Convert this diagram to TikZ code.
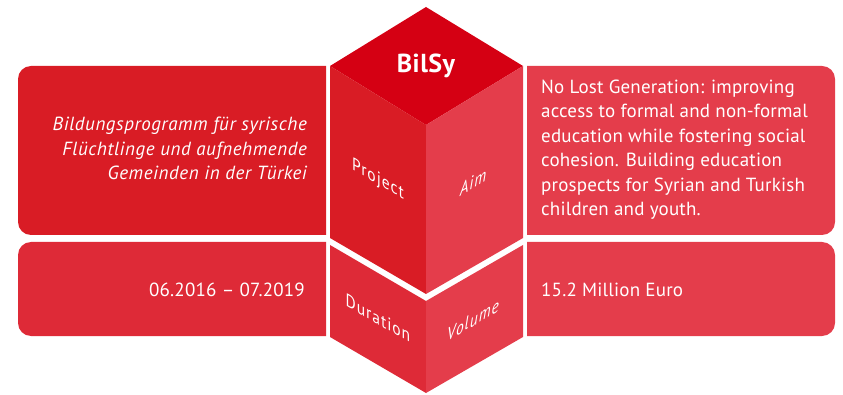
\documentclass[tikz,border=0pt]{standalone}
\usepackage{fontspec}
\setmainfont{PT Sans}
\definecolor{topred}{RGB}{213,0,19}
\definecolor{redA}{RGB}{217,28,37}
\definecolor{redB}{RGB}{222,42,55}
\definecolor{redC}{RGB}{228,61,75}
\begin{document}
\begin{tikzpicture}[x=1pt,y=-1pt,
  txt/.style={text=white,inner sep=0pt,font=\fontsize{19}{24.5}\selectfont\addfontfeatures{LetterSpace=1}},
  itxt/.style={text=white,inner sep=0pt,font=\fontsize{19}{24.5}\selectfont\itshape\addfontfeatures{LetterSpace=3}},
  facelbl/.style={text=white,inner sep=0pt,font=\fontsize{18}{20}\selectfont\addfontfeatures{LetterSpace=6}},
  ifacelbl/.style={text=white,inner sep=0pt,font=\fontsize{18}{20}\selectfont\itshape\addfontfeatures{LetterSpace=6}},
  boxr/.style={rounded corners=13pt}]
\useasboundingbox (0,0) rectangle (843,395);
% left boxes
\fill[redA] (326,66) [boxr] -- (18,66) -- (18,235) [sharp corners] -- (326,235) -- cycle;
\fill[redB] (326,242) [boxr] -- (18,242) -- (18,336) [sharp corners] -- (326,336) -- cycle;
% right boxes
\fill[redC] (527,66) [boxr] -- (835,66) -- (835,235) [sharp corners] -- (527,235) -- cycle;
\fill[redC] (527,242) [boxr] -- (835,242) -- (835,336) [sharp corners] -- (527,336) -- cycle;
% upper cube
\fill[topred] (426,7) -- (330,66) -- (426,125) -- (523,66) -- cycle;
\fill[redA] (330,66) -- (426,125) -- (426,294) -- (330,238) -- cycle;
\fill[redC] (426,125) -- (523,66) -- (523,238) -- (426,294) -- cycle;
% lower cube
\fill[redB] (330,245) -- (426,301) -- (426,393) -- (330,337) -- cycle;
\fill[redC] (426,301) -- (523,245) -- (523,337) -- (426,393) -- cycle;
% texts
\node[text=white,inner sep=0pt,font=\fontsize{26}{28}\selectfont\bfseries\addfontfeatures{LetterSpace=2}] (title) at (426,66) {BilSy};
\node[itxt,anchor=base east,align=right] (proj) at (307,180)
  {Bildungsprogramm für syrische\\Flüchtlinge und aufnehmende\\Gemeinden in der Türkei};
\node[txt,anchor=base west,align=left] (aim) at (541,216)
  {No Lost Generation: improving\\access to formal and non-formal\\education while fostering social\\cohesion. Building education\\prospects for Syrian and Turkish\\children and youth.};
\node[txt,anchor=base east] (dur) at (305,297) {06.2016 – 07.2019};
\node[txt,anchor=base west] (vol) at (541,297) {15.2 Million Euro};
% face labels
\node[facelbl,cm={0.866,-0.5,0,1,(0,0)}] (lproj) at (378,180) {Project};
\node[ifacelbl,cm={0.866,0.5,0,1,(0,0)}] (laim) at (473,182) {Aim};
\node[facelbl,cm={0.866,-0.5,0,1,(0,0)}] (ldur) at (378,318) {Duration};
\node[ifacelbl,cm={0.866,0.5,0,1,(0,0)}] (lvol) at (473,320) {Volume};
\end{tikzpicture}
\end{document}
